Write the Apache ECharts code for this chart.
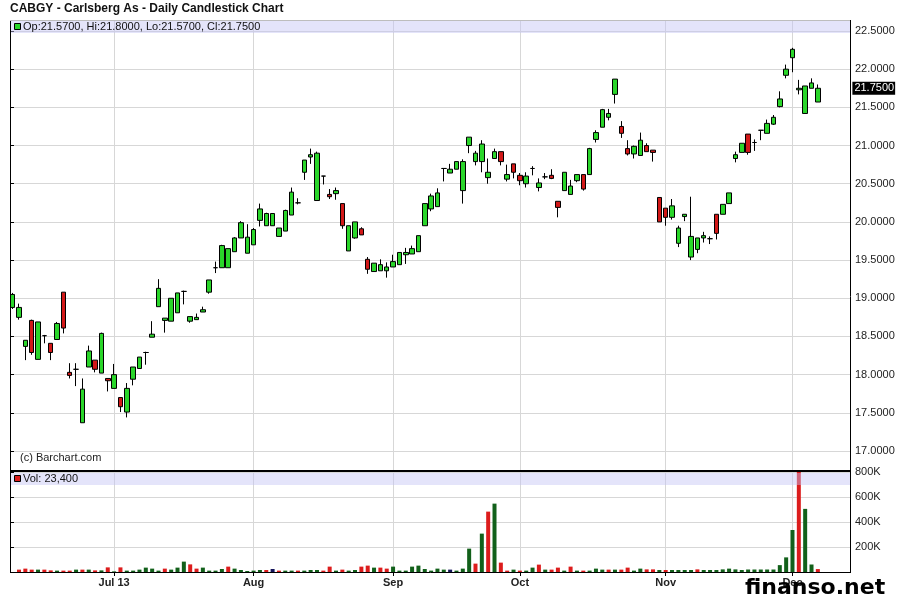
<!DOCTYPE html>
<html><head><meta charset="utf-8">
<script src="https://cdn.jsdelivr.net/npm/echarts@6/dist/echarts.min.js"></script>
<style>html,body{margin:0;padding:0;background:#fff}#c{width:900px;height:598px}</style>
</head><body><div id="c"></div>
<script>
// ---- data ----
const dates = ['6/7','6/10','6/11','6/12','6/13','6/14','6/17','6/18','6/19','6/20','6/21','6/24','6/25','6/26','6/27','6/28',
'7/1','7/2','7/3','7/5','7/8','7/9','7/10','7/11','7/12','7/15','7/16','7/17','7/18','7/19','7/22','7/23','7/24','7/25','7/26','7/29','7/30','7/31',
'8/1','8/2','8/5','8/6','8/7','8/8','8/9','8/12','8/13','8/14','8/15','8/16','8/19','8/20','8/21','8/22','8/23','8/26','8/27','8/28','8/29','8/30',
'9/3','9/4','9/5','9/6','9/9','9/10','9/11','9/12','9/13','9/16','9/17','9/18','9/19','9/20','9/23','9/24','9/25','9/26','9/27','9/30',
'10/1','10/2','10/3','10/4','10/7','10/8','10/9','10/10','10/11','10/14','10/15','10/16','10/17','10/18','10/21','10/22','10/23','10/24','10/25','10/28','10/29','10/30','10/31',
'11/1','11/4','11/5','11/6','11/7','11/8','11/11','11/12','11/13','11/14','11/15','11/18','11/19','11/20','11/21','11/22','11/25','11/26','11/27','11/29',
'12/2','12/3','12/4','12/5','12/6'];
const padDates = ['12/9','12/10','12/11','12/12'];

const opens = [18.88,18.75,18.37,18.71,18.20,18.51,18.41,18.46,19.08,18.03,
18.07,17.37,18.10,18.19,18.02,17.95,17.82,17.70,17.51,17.94,
18.08,18.29,18.49,18.89,18.71,18.70,18.81,19.09,18.70,18.72,
18.82,19.08,19.40,19.40,19.40,19.61,19.79,19.59,19.70,20.02,
19.95,19.95,19.81,19.88,20.09,20.25,20.65,20.85,20.28,20.60,
20.36,20.37,20.24,19.62,19.79,19.91,19.51,19.35,19.36,19.36,
19.41,19.44,19.57,19.58,19.61,19.95,20.17,20.20,20.70,20.64,
20.69,20.41,21.00,20.79,20.79,20.58,20.83,20.92,20.56,20.76,
20.61,20.50,20.70,20.45,20.59,20.61,20.27,20.41,20.36,20.54,
20.62,20.62,21.08,21.24,21.37,21.67,21.25,20.96,20.89,20.87,
21.00,20.94,20.32,20.18,20.06,19.72,20.07,19.54,19.64,19.79,
19.78,20.10,20.10,20.24,20.83,20.91,21.15,21.04,21.20,21.16,
21.28,21.51,21.92,22.15,21.73,21.42,21.75,21.57];
const closes = [19.05,18.88,18.45,18.29,18.69,18.51,18.29,18.67,18.61,17.99,
18.07,17.81,18.31,18.07,18.54,17.92,18.00,17.58,17.82,18.10,
18.23,18.29,18.53,19.13,18.74,19.00,19.07,19.09,18.76,18.75,
18.85,19.24,19.40,19.69,19.65,19.79,19.99,19.80,19.90,20.17,
20.11,20.11,19.92,20.15,20.39,20.25,20.81,20.88,20.90,20.60,
20.33,20.41,19.95,19.95,20.00,19.83,19.38,19.46,19.44,19.41,
19.48,19.60,19.60,19.65,19.82,20.24,20.34,20.38,20.70,20.69,
20.79,20.79,21.11,20.90,21.02,20.65,20.92,20.79,20.62,20.65,
20.54,20.60,20.70,20.51,20.59,20.57,20.19,20.65,20.47,20.62,
20.43,20.96,21.17,21.47,21.42,21.87,21.16,20.89,20.99,21.07,
20.92,20.91,20.00,20.06,20.21,19.92,20.10,19.81,19.79,19.82,
19.78,19.85,20.23,20.38,20.88,21.03,20.91,21.04,21.20,21.29,
21.37,21.61,22.00,22.26,21.75,21.78,21.82,21.75];
const lows = [18.86,18.72,18.19,18.26,18.20,18.41,18.19,18.46,18.54,17.95,
17.85,17.37,18.10,18.03,18.02,17.78,17.82,17.51,17.44,17.86,
18.08,18.13,18.49,18.89,18.55,18.70,18.81,18.92,18.68,18.72,
18.82,19.06,19.33,19.40,19.40,19.61,19.79,19.59,19.70,19.94,
19.95,19.95,19.81,19.88,20.09,20.23,20.55,20.76,20.28,20.49,
20.30,20.29,19.91,19.62,19.78,19.83,19.32,19.35,19.36,19.27,
19.41,19.44,19.45,19.58,19.61,19.95,20.14,20.20,20.53,20.64,
20.69,20.24,20.90,20.74,20.65,20.50,20.83,20.74,20.53,20.57,
20.48,20.45,20.61,20.40,20.56,20.56,20.06,20.41,20.36,20.52,
20.41,20.62,21.04,21.24,21.33,21.55,21.10,20.87,20.83,20.87,
20.92,20.79,20.00,19.95,20.03,19.67,20.01,19.50,19.59,19.73,
19.71,19.77,20.10,20.24,20.78,20.91,20.88,20.93,21.07,21.16,
21.27,21.50,21.88,21.96,21.67,21.42,21.75,21.57];
const highs = [19.07,18.93,18.45,18.72,18.69,18.52,18.41,18.69,19.08,18.15,
18.15,17.95,18.38,18.19,18.55,17.95,18.14,17.70,17.89,18.10,
18.23,18.30,18.70,19.25,18.74,19.00,19.07,19.10,18.76,18.80,
18.89,19.24,19.48,19.70,19.65,19.80,20.01,19.97,19.92,20.24,
20.12,20.11,19.92,20.16,20.45,20.31,20.81,20.96,20.92,20.60,
20.43,20.45,20.24,19.95,20.00,19.93,19.54,19.46,19.51,19.47,
19.57,19.60,19.66,19.69,19.82,20.24,20.37,20.44,20.70,20.76,
20.79,20.82,21.11,20.93,21.07,20.83,20.96,20.92,20.75,20.76,
20.64,20.65,20.73,20.57,20.64,20.69,20.27,20.65,20.55,20.62,
20.62,20.97,21.20,21.48,21.48,21.87,21.32,21.07,21.00,21.17,
21.03,20.94,20.32,20.18,20.30,19.95,20.10,20.33,19.79,19.87,
19.81,20.10,20.23,20.38,20.92,21.03,21.15,21.08,21.20,21.34,
21.40,21.71,22.06,22.28,21.86,21.78,21.88,21.80];

// volume in thousands of shares
const volumesK = [0,19,27,19,19,19,13,11,11,11,
19,19,19,13,13,37,5,37,11,11,
19,35,27,11,27,19,35,83,61,27,
35,11,11,24,43,27,16,8,11,16,
16,24,11,11,11,11,11,16,16,11,
43,11,19,11,16,43,51,35,35,27,
43,11,11,43,51,24,11,27,19,19,
11,27,187,67,307,483,547,75,11,19,
11,11,35,59,19,19,35,11,43,11,
11,11,27,19,19,19,19,35,11,27,
21,21,16,16,16,16,16,16,21,16,
16,16,21,27,21,16,20,20,20,20,
20,55,117,336,840,505,60,23.4];
// r = down, g = up, n = unchanged
const volumeColors = ['r','r','r','r','g','r','r','g','r','r',
'g','r','g','r','g','r','g','r','g','g',
'g','g','g','g','r','g','g','g','r','r',
'g','g','g','g','r','g','g','g','g','g',
'r','n','r','g','g','r','g','g','g','r',
'r','g','r','g','g','r','r','g','r','r',
'g','g','g','g','g','g','g','g','g','n',
'g','g','g','r','g','r','g','r','r','g',
'r','g','g','r','g','r','r','g','r','g',
'r','g','g','g','r','g','r','r','g','g',
'r','r','g','r','g','g','g','g','r','g',
'g','g','g','g','g','g','g','g','g','g',
'g','g','g','g','r','g','g','r'];

const monthTickDates = ['7/1','8/1','9/3','10/1','11/1','12/2'];
const monthTickLabels = ['Jul 13','Aug','Sep','Oct','Nov','Dec'];
const priceMin = 17.0, priceMax = 22.5, priceStep = 0.5;
const volMin = 0, volMax = 800000, volStep = 200000;

// ---- build ----
const FONT = 'Liberation Sans, Arial, sans-serif';
const cats = dates.concat(padDates);
const candleData = dates.map((d, i) => [opens[i], closes[i], lows[i], highs[i]]);
const colorMap = { r: '#dc1c1c', g: '#12601a', n: '#14145a' };
const volData = volumesK.map((v, i) => ({ value: v * 1000, itemStyle: { color: colorMap[volumeColors[i]] } }));
const tickIdx = new Set(monthTickDates.map(d => cats.indexOf(d)));
const labelOf = {}; monthTickDates.forEach((d, i) => labelOf[d] = monthTickLabels[i]);
const n = dates.length - 1;
const lastClose = closes[n];

// pixel layout of panels
const P = { left: 10, right: 850, top: 20, bottom: 470 };
const labTop = 31, labBottom = 451;
const pxPerUnit = (labBottom - labTop) / (priceMax - priceMin);
const candleMax = priceMax + (labTop - P.top) / pxPerUnit;
const candleMin = priceMin - (P.bottom - labBottom) / pxPerUnit;
const V = { top: 472, bottom: 572 };
const slotW = 6.34;
const cLeft = 9.5, cWidth = slotW * cats.length;

const gridLineColor = '#d7d7d7';
const vLines = monthTickDates.map(d => ({ xAxis: d }));

const chart = echarts.init(document.getElementById('c'), null, { renderer: 'canvas' });
chart.setOption({
  animation: false,
  backgroundColor: '#ffffff',
  grid: [
    { left: P.left, width: P.right - P.left, top: labTop, height: labBottom - labTop },
    { left: cLeft, width: cWidth, top: P.top, height: P.bottom - P.top },
    { left: P.left, width: P.right - P.left, top: V.top, height: V.bottom - V.top },
    { left: cLeft, width: cWidth, top: V.top, height: V.bottom - V.top }
  ],
  xAxis: [
    { gridIndex: 0, type: 'value', min: 0, max: 1, show: false },
    { gridIndex: 1, type: 'category', data: cats, boundaryGap: true, show: false },
    { gridIndex: 2, type: 'value', min: 0, max: 1, show: false },
    { gridIndex: 3, type: 'category', data: cats, boundaryGap: true,
      axisLine: { show: false },
      axisTick: { show: true, alignWithLabel: true, length: 4, interval: (i) => tickIdx.has(i), lineStyle: { color: '#000' } },
      axisLabel: { interval: (i) => tickIdx.has(i), formatter: (v) => labelOf[v] || '', margin: 5,
        fontFamily: FONT, fontSize: 11, fontWeight: 'bold', color: '#222' },
      splitLine: { show: false } }
  ],
  yAxis: [
    { gridIndex: 0, type: 'value', position: 'right', min: priceMin, max: priceMax, interval: priceStep,
      axisLine: { show: false },
      axisTick: { show: true, length: 4, lineStyle: { color: '#000' } },
      axisLabel: { formatter: (v) => v.toFixed(4), margin: 5, fontFamily: FONT, fontSize: 11, color: '#222' },
      splitLine: { show: true, lineStyle: { color: gridLineColor, width: 1 } } },
    { gridIndex: 1, type: 'value', min: candleMin, max: candleMax, show: false },
    { gridIndex: 2, type: 'value', position: 'right', min: volMin, max: volMax, interval: volStep,
      axisLine: { show: false },
      axisTick: { show: true, length: 4, lineStyle: { color: '#000' } },
      axisLabel: { showMinLabel: false, formatter: (v) => (v / 1000) + 'K', margin: 5, fontFamily: FONT, fontSize: 11, color: '#222' },
      splitLine: { show: true, lineStyle: { color: gridLineColor, width: 1 } } },
    { gridIndex: 3, type: 'value', min: volMin, max: volMax, show: false }
  ],
  series: [
    { type: 'candlestick', xAxisIndex: 1, yAxisIndex: 1, data: candleData, barWidth: 5,
      itemStyle: { color: '#2ad62a', color0: '#d21818', borderColor: '#000', borderColor0: '#000', borderWidth: 1 },
      markLine: { silent: true, symbol: 'none', z: 1, animation: false, label: { show: false },
        lineStyle: { color: gridLineColor, width: 1, type: 'solid' }, data: vLines } },
    { type: 'line', xAxisIndex: 1, yAxisIndex: 1, data: [], z: 50,
      markLine: { silent: true, symbol: 'none', z: 50, animation: false,
        lineStyle: { color: 'rgba(0,0,0,0)', width: 1 },
        label: { show: true, position: 'end', distance: 6, formatter: () => lastClose.toFixed(4),
          backgroundColor: '#000', color: '#fff', padding: [1, 1, 1, 2], fontFamily: FONT, fontSize: 11 },
        data: [{ yAxis: lastClose }] } },
    { type: 'bar', xAxisIndex: 3, yAxisIndex: 3, data: volData, barWidth: 4, clip: true,
      markLine: { silent: true, symbol: 'none', z: 1, animation: false, label: { show: false },
        lineStyle: { color: gridLineColor, width: 1, type: 'solid' }, data: vLines } }
  ],
  graphic: [
    { type: 'text', left: 10, top: 3, z: 100, style: { text: 'CABGY - Carlsberg As - Daily Candlestick Chart', font: 'bold 12px ' + FONT, fill: '#111' } },
    // header bands
    { type: 'rect', z: 100, shape: { x: P.left, y: P.top, width: P.right - P.left, height: 13 }, style: { fill: 'rgba(195,195,244,0.45)' } },
    { type: 'rect', z: 100, shape: { x: P.left, y: V.top + 1, width: P.right - P.left, height: 12 }, style: { fill: 'rgba(195,195,244,0.45)' } },
    { type: 'rect', z: 101, shape: { x: 14.5, y: 23.5, width: 6, height: 6 }, style: { fill: '#2ad62a', stroke: '#000', lineWidth: 1 } },
    { type: 'text', z: 101, x: 23, y: 27, style: { text: 'Op:' + opens[n].toFixed(4) + ', Hi:' + highs[n].toFixed(4) + ', Lo:' + lows[n].toFixed(4) + ', Cl:' + closes[n].toFixed(4),
      font: '11px ' + FONT, fill: '#111', textVerticalAlign: 'middle' } },
    { type: 'rect', z: 101, shape: { x: 14.5, y: 475.5, width: 6, height: 6 }, style: { fill: '#dc1c1c', stroke: '#000', lineWidth: 1 } },
    { type: 'text', z: 101, x: 23, y: 479, style: { text: 'Vol: ' + Math.round(volumesK[n] * 1000).toLocaleString('en-US'),
      font: '11px ' + FONT, fill: '#111', textVerticalAlign: 'middle' } },
    { type: 'text', z: 101, x: 20, y: 458, style: { text: '(c) Barchart.com', font: '11px ' + FONT, fill: '#222', textVerticalAlign: 'middle' } },
    // frame
    { type: 'line', z: 102, shape: { x1: P.left + 0.5, y1: P.top, x2: P.left + 0.5, y2: V.bottom }, style: { stroke: '#000', lineWidth: 1 } },
    { type: 'line', z: 102, shape: { x1: P.right + 0.5, y1: P.top, x2: P.right + 0.5, y2: V.bottom + 1 }, style: { stroke: '#000', lineWidth: 1 } },
    { type: 'line', z: 102, shape: { x1: P.left, y1: P.top + 0.5, x2: P.right, y2: P.top + 0.5 }, style: { stroke: '#bdbdbd', lineWidth: 1 } },
    { type: 'line', z: 102, shape: { x1: P.left, y1: 471, x2: P.right + 1, y2: 471 }, style: { stroke: '#000', lineWidth: 2 } },
    { type: 'line', z: 102, shape: { x1: P.left, y1: V.bottom + 0.5, x2: P.right + 1, y2: V.bottom + 0.5 }, style: { stroke: '#000', lineWidth: 1 } },
    // watermark
    { type: 'text', z: 110, x: 745, y: 577, style: { text: 'finanso.net', font: 'bold 22px DejaVu Sans, sans-serif', fill: '#000', textVerticalAlign: 'alphabetic' } }
  ]
});
</script></body></html>
